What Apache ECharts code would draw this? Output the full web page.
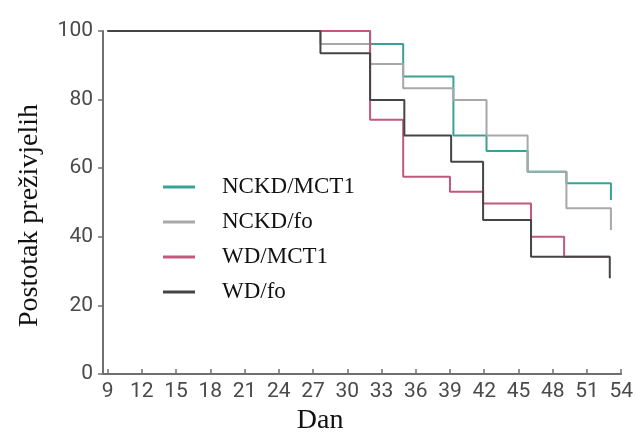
<!DOCTYPE html>
<html>
<head>
<meta charset="utf-8">
<script src="https://cdn.jsdelivr.net/npm/echarts@6/dist/echarts.min.js"></script>
<style>
html,body{margin:0;padding:0;background:#fff;}
#c{width:636px;height:443px;}
</style>
</head>
<body>
<div id="c"></div>
<script>
var seriesNames = ['NCKD/MCT1', 'NCKD/fo', 'WD/MCT1', 'WD/fo'];
var xTicks = [9, 12, 15, 18, 21, 24, 27, 30, 33, 36, 39, 42, 45, 48, 51, 54];
var yTicks = [0, 20, 40, 60, 80, 100];
var nckdMct1 = [[9,100],[32,96.2],[34.9,86.7],[39.3,69.5],[42.2,65],[45.8,59],[49.2,55.6],[53.1,50.7]];
var nckdFo   = [[9,100],[27.65,96.2],[32,90.4],[34.9,83.3],[39.3,79.9],[42.2,69.5],[45.8,59],[49.2,48.3],[53.1,42]];
var wdMct1   = [[9,100],[32,74.1],[34.9,57.5],[39.0,53.1],[41.9,49.7],[46.1,40],[49.0,34.2],[53.0,34.2]];
var wdFo     = [[9,100],[27.65,93.5],[32,79.9],[35,69.5],[39.1,61.9],[41.9,44.9],[46.1,34.2],[53.0,27.9]];
var colors = ['#3aa294', '#a8a8a8', '#c4587a', '#454545'];
var allData = [nckdMct1, nckdFo, wdMct1, wdFo];

var chart = echarts.init(document.getElementById('c'));
var serif = '"Liberation Serif", "DejaVu Serif", serif';
var sans = 'Roboto, "Liberation Sans", sans-serif';
chart.setOption({
  animation: false,
  grid: {left: 103, right: 14, top: 31, bottom: 69, containLabel: false},
  legend: {
    orient: 'vertical',
    left: 158, top: 170,
    icon: 'rect',
    itemWidth: 32, itemHeight: 3,
    itemGap: 11,
    data: seriesNames,
    textStyle: {fontFamily: serif, fontSize: 23, color: '#111', padding: [0,0,0,22], lineHeight: 24}
  },
  xAxis: {
    type: 'value', min: 8.6, max: 54,
    name: 'Dan', nameLocation: 'middle', nameGap: 23,
    nameTextStyle: {fontFamily: serif, fontSize: 28, color: '#111', padding: [0, 84, 0, 0]},
    axisLine: {show: true, lineStyle: {color: '#707070', width: 2}},
    axisTick: {show: true, inside: true, length: 5, customValues: xTicks, lineStyle: {color: '#707070', width: 1.5}},
    axisLabel: {customValues: xTicks, fontFamily: sans, fontSize: 21, color: '#4a4a4a', margin: 7},
    splitLine: {show: false}
  },
  yAxis: {
    type: 'value', min: 0, max: 100, interval: 20,
    name: 'Postotak preživjelih', nameLocation: 'middle', nameGap: 59, nameRotate: 90,
    nameTextStyle: {fontFamily: serif, fontSize: 28, color: '#111', padding: [0, 26, 0, 0]},
    axisLine: {show: true, lineStyle: {color: '#707070', width: 2}},
    axisTick: {show: true, length: 5, lineStyle: {color: '#707070', width: 1.5}},
    axisLabel: {fontFamily: sans, fontSize: 21, color: '#4a4a4a', margin: 10},
    splitLine: {show: false}
  },
  series: seriesNames.map(function(n, i){
    return {
      name: n, type: 'line', step: 'end', symbol: 'none',
      data: allData[i],
      lineStyle: {color: colors[i], width: 2},
      itemStyle: {color: colors[i]}
    };
  })
});
</script>
</body>
</html>
